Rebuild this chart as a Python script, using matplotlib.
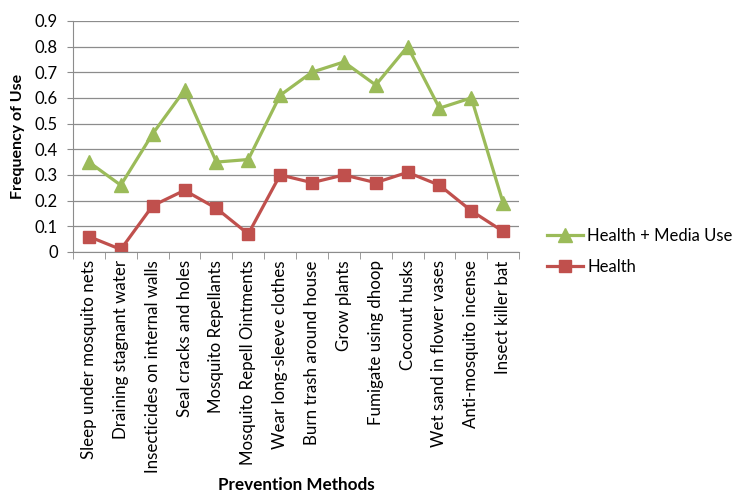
import matplotlib
matplotlib.use('Agg')
import matplotlib.pyplot as plt
import numpy as np

plt.rcParams['font.family'] = ['Lato', 'DejaVu Sans']

methods = ['Sleep under mosquito nets', 'Draining stagnant water',
           'Insecticides on internal walls', 'Seal cracks and holes',
           'Mosquito Repellants', 'Mosquito Repell Ointments',
           'Wear long-sleeve clothes', 'Burn trash around house',
           'Grow plants', 'Fumigate using dhoop', 'Coconut husks',
           'Wet sand in flower vases', 'Anti-mosquito incense',
           'Insect killer bat']
health_media = [0.35, 0.26, 0.46, 0.63, 0.35, 0.36, 0.61, 0.70, 0.74,
                0.65, 0.80, 0.56, 0.60, 0.19]
health = [0.06, 0.01, 0.18, 0.24, 0.17, 0.07, 0.30, 0.27, 0.30, 0.27,
          0.31, 0.26, 0.16, 0.08]

GREEN = '#9BBB59'
RED = '#C0504D'
GRID = '#8c8c8c'

fig = plt.figure(figsize=(7.35, 4.96), dpi=100)
ax = fig.add_axes([0.0993, 0.492, 0.607, 0.466])

x = np.arange(len(methods))
l1, = ax.plot(x, health_media, color=GREEN, linewidth=2.3, marker='^',
              markersize=9.5, label='Health + Media Use')
l2, = ax.plot(x, health, color=RED, linewidth=2.3, marker='s',
              markersize=8.5, label='Health')

ax.set_xlim(-0.5, len(methods) - 0.5)
ax.set_ylim(0, 0.9)
yt = np.arange(0, 0.91, 0.1)
ax.set_yticks(yt)
ax.set_yticklabels(['0' if v == 0 else f'{v:.1f}' for v in yt])
ax.yaxis.grid(True, color=GRID, linewidth=0.9)
ax.set_axisbelow(True)

# category labels at centers, tick marks between categories
ax.set_xticks(x)
ax.set_xticklabels(methods, rotation=90, fontsize=12.2)
ax.tick_params(axis='x', length=0, pad=6)
ax.set_xticks(np.arange(-0.5, len(methods)), minor=True)
ax.tick_params(axis='x', which='minor', length=5, color=GRID, direction='out')
ax.tick_params(axis='y', labelsize=12, length=4, color=GRID, pad=7)

for s in ['top', 'right']:
    ax.spines[s].set_visible(False)
for s in ['left', 'bottom']:
    ax.spines[s].set_color(GRID)

ax.set_ylabel('Frequency of Use', fontsize=11.5, fontweight='bold', labelpad=7)
ax.set_xlabel('Prevention Methods', fontsize=12.3, fontweight='bold', labelpad=3)

fig.legend(handles=[l1, l2], loc='center left', bbox_to_anchor=(0.724, 0.493),
           frameon=False, fontsize=12, handlelength=2.15, handletextpad=0.25,
           labelspacing=0.9)

fig.savefig('out.png', dpi=100)
